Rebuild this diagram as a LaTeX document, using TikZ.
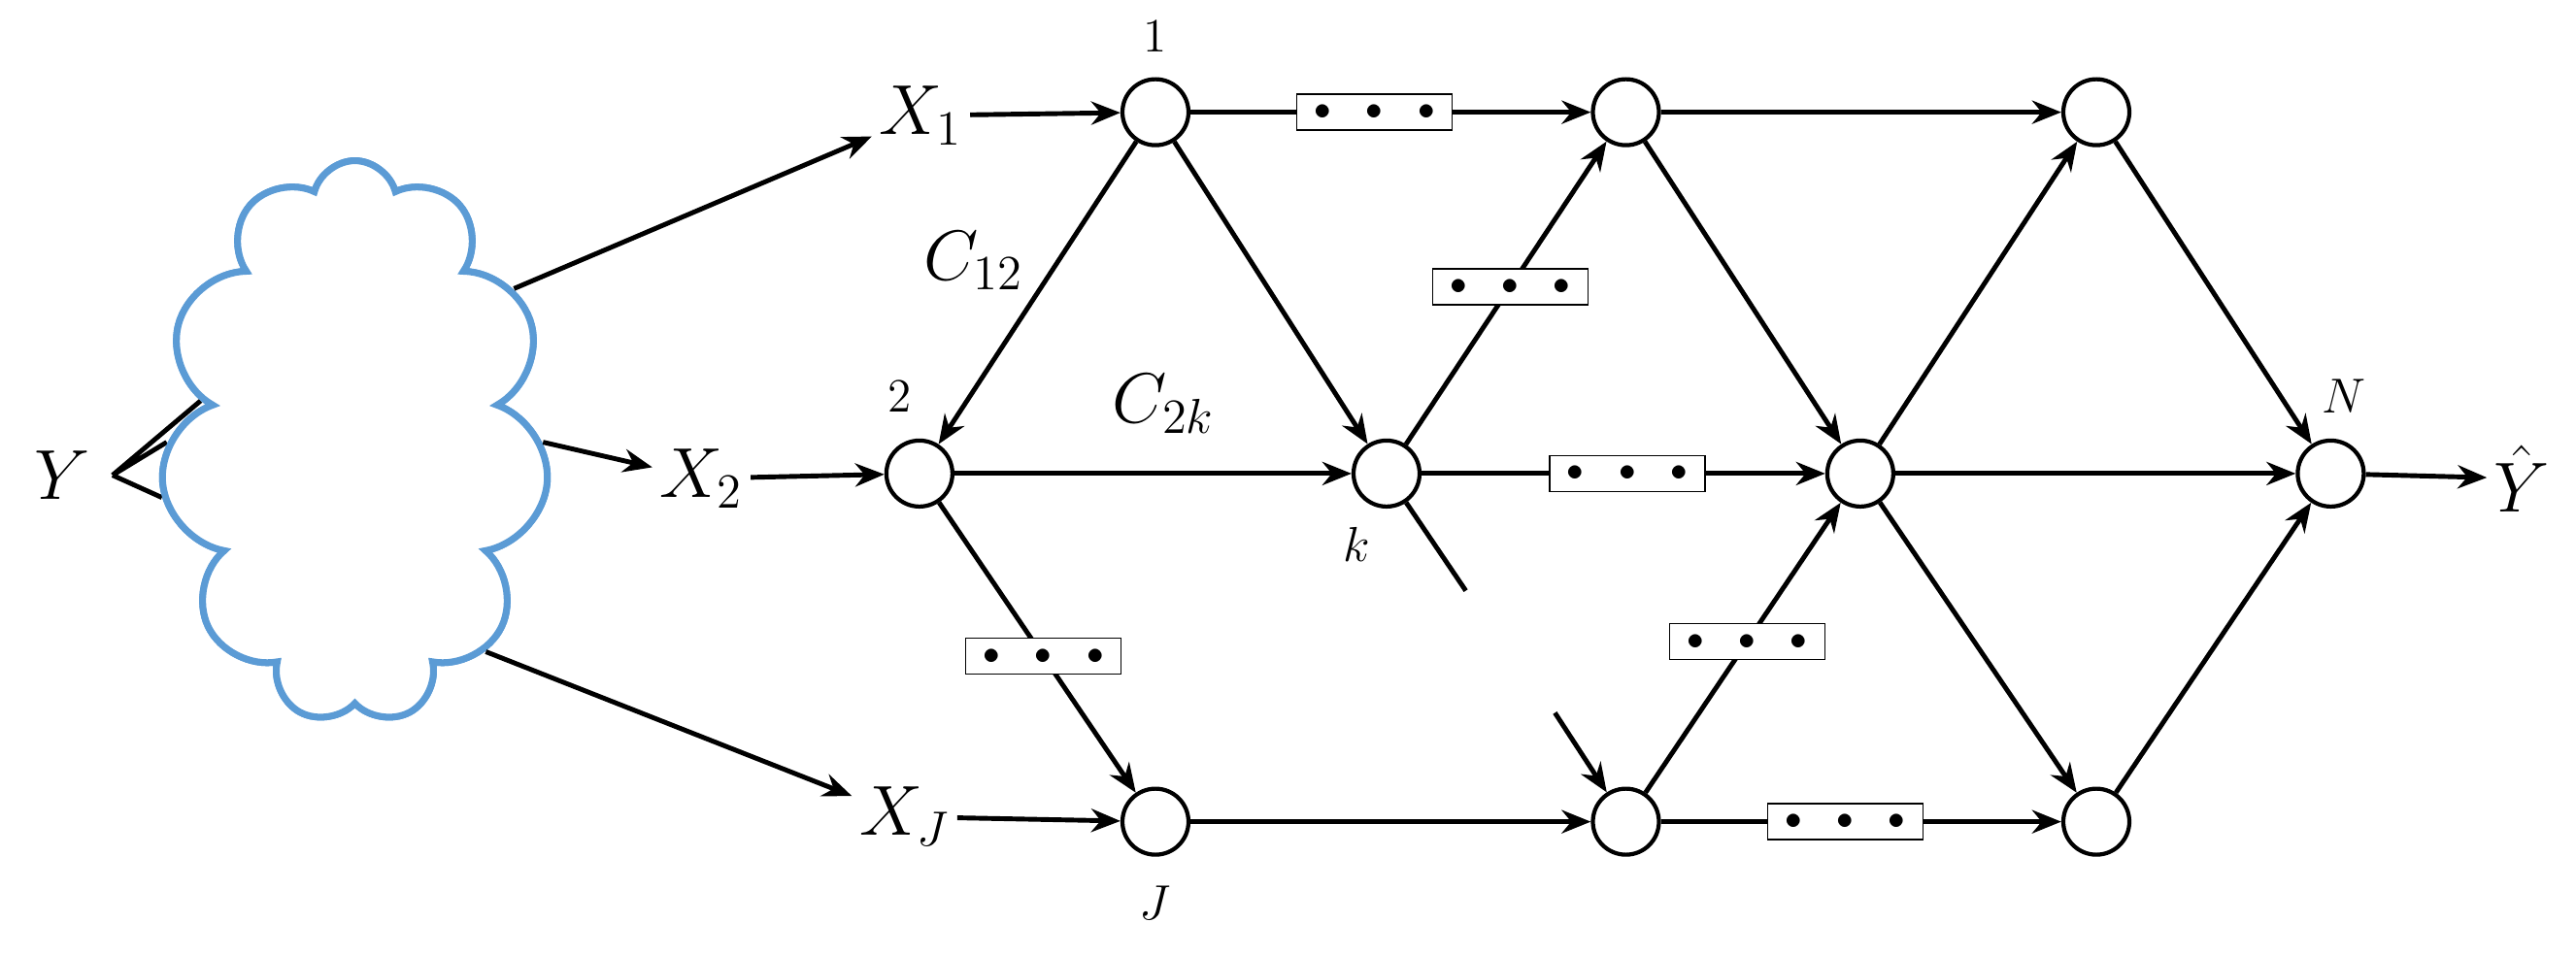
\documentclass[tikz,border=0pt]{standalone}
\usepackage{amsmath,amssymb}
\usepackage{tikz}
\usepackage{xcolor}
\usetikzlibrary{arrows.meta,shapes.symbols}
\definecolor{cloudblue}{RGB}{91,155,213}
\newcommand{\threedots}{$\bullet\hspace{0.28cm}\bullet\hspace{0.28cm}\bullet$}

\begin{document}
\begin{tikzpicture}[x=0.017cm,y=-0.017cm]
        \useasboundingbox (0,0) rectangle (1560.6,579.4);
        \tikzset{dots/.style={draw=black,thin,fill=white,rectangle,inner sep=0pt,
                   minimum width=1.6cm,minimum height=0.37cm}}

        % source and cloud
        \node (Y) at (38,288) {\fontsize{20}{24}\selectfont $Y$};
        \path (Y.east) ++(6,0) coordinate (apex);
        \node[cloud, cloud puffs=11, cloud ignores aspect, draw=cloudblue, line width=2pt,
              fill=white, minimum width=4.0cm, minimum height=5.8cm] (cloud) at (215,268) {};
        \draw[line width=1.4pt] (apex) -- (cloud.165) (apex) -- (cloud.180) (apex) -- (cloud.196);
        \node[cloud, cloud puffs=11, cloud ignores aspect, draw=cloudblue, line width=2pt,
              fill=white, minimum width=4.0cm, minimum height=5.8cm] at (215,268) {};

        \begin{scope}[every node/.style={inner sep=2pt}]
            \node (X1) at (558,70)  {\fontsize{20}{24}\selectfont $X_1$};
            \node (X2) at (425,290) {\fontsize{20}{24}\selectfont $X_2$};
            \node (XJ) at (548,495) {\fontsize{20}{24}\selectfont $X_J$};
            \node (Yh) at (1528,290) {\fontsize{20}{24}\selectfont $\hat{Y}$};
        \end{scope}

        \begin{scope}[every node/.style={circle, draw, line width=1.2pt, minimum size=0.68cm, inner sep=0pt}]
            \node (n1) at (700,68)   {};
            \node (n2) at (557,287)  {};
            \node (k)  at (840,287)  {};
            \node (J)  at (700,498)  {};

            \node (t2) at (985,68)   {};
            \node (m2) at (1127,287) {};
            \node (b2) at (985,498)  {};

            \node (t3) at (1270,68)  {};
            \node (N)  at (1412,287) {};
            \node (b3) at (1270,498) {};
        \end{scope}

        \coordinate (ks) at (888,358);
        \coordinate (bs) at (942,432);

        % node labels
        \begin{scope}[every node/.style={font=\fontsize{14}{16}\selectfont}]
            \node (l1) at (700,22)  {1};
            \node (l2) at (545,240) {2};
            \node (lk) at (822,330) {$k$};
            \node (lJ) at (700,547) {$J$};
            \node (lN) at (1420,240) {$N$};
            \node (c12) at (590,158) {\fontsize{20}{24}\selectfont $C_{12}$};
            \node (c2k) at (705,245) {\fontsize{20}{24}\selectfont $C_{2k}$};
        \end{scope}

        \begin{scope}[>={Stealth[length=0.3cm,width=0.24cm]},
                        every edge/.style={draw=black,line width=1.4pt}]
            \path [->] (cloud.44)  edge (X1);
            \path [->] (cloud.east) edge (X2);
            \path [->] (cloud.-58) edge (XJ);

            \path [->] (X1) edge (n1);
            \path [->] (X2) edge (n2);
            \path [->] (XJ) edge (J);

            \path [->] (n1) edge node[pos=0.46,dots] (d1) {\threedots} (t2);
            \path [->] (n1) edge (n2);
            \path [->] (n1) edge (k);
            \path [->] (n2) edge (k);
            \path [->] (n2) edge node[pos=0.53,dots] (d2) {\threedots} (J);
            \path [->] (J)  edge (b2);

            \path [->] (k) edge node[pos=0.52,dots] (d3) {\threedots} (t2);
            \path [->] (k) edge node[pos=0.51,dots] (d4) {\threedots} (m2);
            \path [-]  (k) edge (ks);
            \path [->] (bs) edge (b2);
            \path [->] (b2) edge node[pos=0.52,dots] (d5) {\threedots} (m2);
            \path [->] (b2) edge node[pos=0.46,dots] (d6) {\threedots} (b3);

            \path [->] (t2) edge (t3);
            \path [->] (t2) edge (m2);
            \path [->] (m2) edge (t3);
            \path [->] (m2) edge (N);
            \path [->] (m2) edge (b3);
            \path [->] (t3) edge (N);
            \path [->] (b3) edge (N);
            \path [->] (N)  edge (Yh);
        \end{scope}
    \end{tikzpicture}
\end{document}
